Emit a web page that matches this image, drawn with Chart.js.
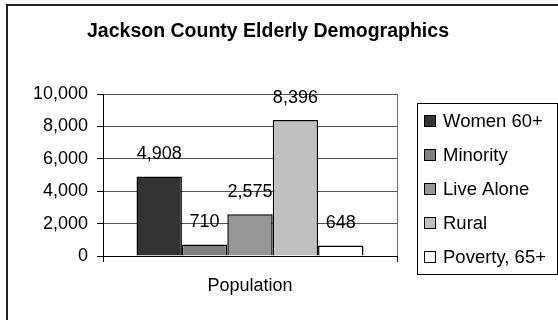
<!DOCTYPE html>
<html>
<head>
<meta charset="utf-8">
<script src="https://cdn.jsdelivr.net/npm/chart.js@4.4.0/dist/chart.umd.min.js"></script>
<style>
  html, body { margin: 0; padding: 0; background: #fff; }
</style>
</head>
<body>
<canvas id="myChart" width="558" height="320"></canvas>
<script>
const categories = ['Population']
const seriesNames = ['Women 60+', 'Minority', 'Live Alone', 'Rural', 'Poverty, 65+']
const seriesValues = [4908, 710, 2575, 8396, 648]
const seriesColors = ['#333333', '#808080', '#969696', '#c0c0c0', '#ffffff']
const yMax = 10000
const yStep = 2000

const FONT = "'Liberation Sans', Arial, sans-serif"
const ctx = document.getElementById('myChart')

// frame, value labels and the boxed legend on the right
const extras = {
    id: 'extras',
    beforeDraw(chart) {
        const c = chart.ctx
        c.save()
        c.fillStyle = '#fff'
        c.fillRect(0, 0, chart.width, chart.height)
        c.strokeStyle = '#222'
        c.lineWidth = 2
        c.strokeRect(7, 5, 700, 500)
        c.restore()
    },
    afterDatasetsDraw(chart) {
        const c = chart.ctx
        c.save()
        c.font = `18px ${FONT}`
        c.fillStyle = '#000'
        c.textAlign = 'center'
        c.textBaseline = 'middle'
        chart.data.datasets.forEach((ds, i) => {
            const bar = chart.getDatasetMeta(i).data[0]
            c.fillText(ds.data[0].toLocaleString('en-US'), bar.x, bar.y - 22)
        })
        c.restore()
    },
    afterDraw(chart) {
        const c = chart.ctx
        const left = 417, top = 103, step = 34
        c.save()
        c.strokeStyle = '#000'
        c.lineWidth = 1
        c.strokeRect(left + 0.5, top + 0.5, 140, 171)
        c.font = `18.5px ${FONT}`
        c.textBaseline = 'middle'
        chart.data.datasets.forEach((ds, i) => {
            const y = top + 18 + i * step
            c.fillStyle = ds.backgroundColor
            c.fillRect(424, y - 6, 12, 12)
            c.strokeRect(424.5, y - 5.5, 11, 11)
            c.fillStyle = '#000'
            c.fillText(ds.label, 443, y + 1)
        })
        c.restore()
    }
}

new Chart(ctx, {
    type: 'bar',
    data: {
        labels: categories,
        datasets: seriesNames.map((name, i) => ({
            label: name,
            data: [seriesValues[i]],
            backgroundColor: seriesColors[i],
            borderColor: '#000',
            borderWidth: 1.5
        }))
    },
    options: {
        responsive: false,
        animation: false,
        layout: { padding: { left: 0, right: 22, top: 0, bottom: 0 } },
        datasets: { bar: { categoryPercentage: 0.772, barPercentage: 1 } },
        plugins: {
            legend: { display: false },
            tooltip: { enabled: false },
            title: {
                display: true,
                text: 'Jackson County Elderly Demographics',
                color: '#000',
                font: { family: FONT, size: 19.5, weight: 'bold' },
                padding: { top: 19.5, bottom: 51.1 }
            }
        },
        scales: {
            x: {
                afterFit: s => { s.height = 64 },
                grid: { color: '#707070', tickColor: '#000', tickLength: 6, offset: true },
                border: { color: '#000', width: 1 },
                ticks: { color: '#000', padding: 13, font: { family: FONT, size: 18 } }
            },
            y: {
                min: 0,
                max: yMax,
                afterFit: s => { s.width = 103 },
                grid: { color: '#555', tickColor: '#000', tickLength: 6 },
                border: { color: '#000', width: 1 },
                ticks: { stepSize: yStep, color: '#000', padding: 9, font: { family: FONT, size: 18 } }
            },
            pad: {
                type: 'linear',
                position: 'right',
                afterFit: s => { s.width = 139 },
                grid: { display: false },
                border: { display: false },
                ticks: { display: false }
            }
        }
    },
    plugins: [extras]
})
</script>
</body>
</html>
